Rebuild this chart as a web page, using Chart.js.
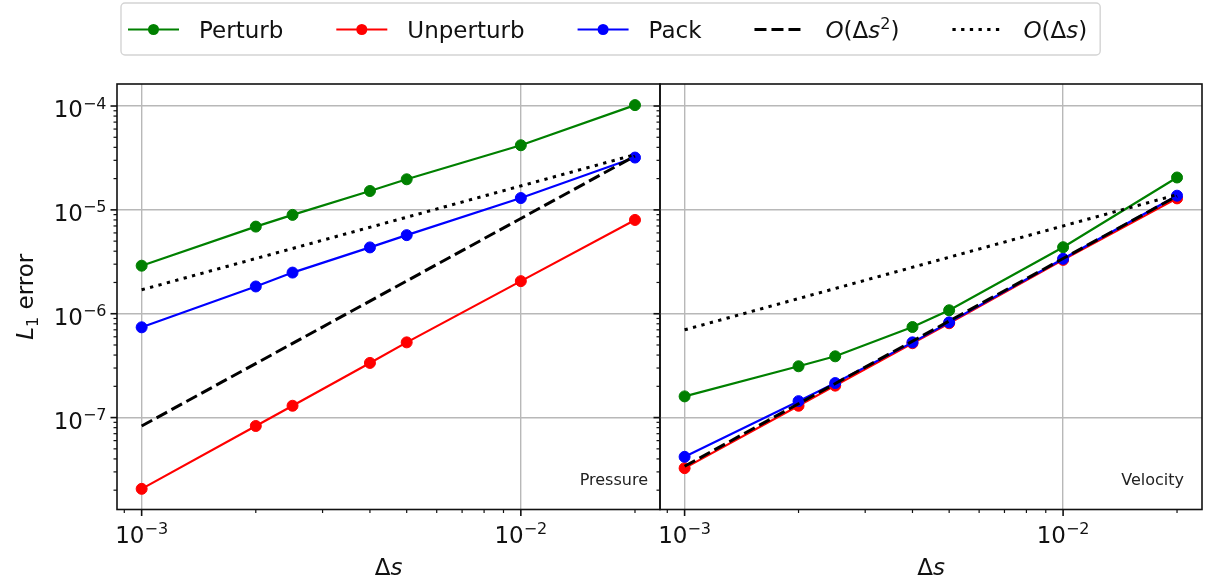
<!DOCTYPE html>
<html lang="en">
<head>
<meta charset="UTF-8">
<title>L1 error vs Δs</title>
<script src="https://cdn.jsdelivr.net/npm/chart.js"></script>
<style>
  body { margin: 0; background: #fff; }
  .wrap { position: relative; width: 1210px; height: 588px; }
  canvas { position: absolute; top: 0; }
  #left { left: 0; }
  #right { left: 620px; }
</style>
</head>
<body>
<div class="wrap">
  <canvas id="left" width="1210" height="588"></canvas>
  <canvas id="right" width="590" height="588"></canvas>
</div>
<script>
// grid spacings and reference-line end points
const ds = [0.001, 0.002, 0.0025, 0.004, 0.005, 0.01, 0.02];
const refDs = [0.001, 0.02];
const seriesNames = ['Perturb', 'Unperturb', 'Pack', 'O(Δs²)', 'O(Δs)'];
const panelNames = ['Pressure', 'Velocity'];

// pressure panel
const pressurePerturb = [2.9e-6, 6.9e-6, 8.95e-6, 1.52e-5, 1.97e-5, 4.19e-5, 1.02e-4];
const pressureUnperturb = [2.06e-8, 8.3e-8, 1.3e-7, 3.36e-7, 5.3e-7, 2.06e-6, 8.0e-6];
const pressurePack = [7.4e-7, 1.83e-6, 2.49e-6, 4.35e-6, 5.71e-6, 1.3e-5, 3.19e-5];
const pressureO2 = [8.3e-8, 3.3e-5];
const pressureO1 = [1.7e-6, 3.4e-5];

// velocity panel
const velocityPerturb = [1.6e-7, 3.12e-7, 3.89e-7, 7.45e-7, 1.08e-6, 4.37e-6, 2.05e-5];
const velocityUnperturb = [3.26e-8, 1.3e-7, 2.03e-7, 5.2e-7, 8.1e-7, 3.3e-6, 1.29e-5];
const velocityPack = [4.19e-8, 1.44e-7, 2.15e-7, 5.3e-7, 8.26e-7, 3.38e-6, 1.37e-5];
const velocityO2 = [3.4e-8, 1.36e-5];
const velocityO1 = [7.0e-7, 1.4e-5];

// axes
const xMajor = [1e-3, 1e-2];
const xTickLabels = ['10⁻³', '10⁻²'];
const yMajor = [1e-7, 1e-6, 1e-5, 1e-4];
const yTickLabels = ['10⁻⁷', '10⁻⁶', '10⁻⁵', '10⁻⁴'];
const xRange = [Math.pow(10, -3.065), Math.pow(10, -1.633)];
const yRange = [Math.pow(10, -7.885), Math.pow(10, -3.788)];

const FONT = "'DejaVu Sans', sans-serif";
const colors = ['green', 'red', 'blue', 'black', 'black'];

function pts(xs, ys) {
  return xs.map((x, i) => ({ x: x, y: ys[i] }));
}

function makeDatasets(perturb, unperturb, pack, o2, o1) {
  const list = [pts(ds, perturb), pts(ds, unperturb), pts(ds, pack), pts(refDs, o2), pts(refDs, o1)];
  return list.map((data, i) => {
    const ref = i >= 3;
    return {
      label: seriesNames[i],
      data: data,
      borderColor: colors[i],
      backgroundColor: colors[i],
      borderWidth: ref ? 3 : 2.2,
      borderDash: i === 3 ? [12, 5] : (i === 4 ? [3.3, 5.4] : []),
      pointRadius: ref ? 0 : 5.5,
      pointBorderWidth: 1,
      pointHoverRadius: 0,
      order: list.length - i,
      tension: 0,
      fill: false
    };
  });
}

function findMajor(list, v) {
  return list.findIndex(m => Math.abs(m - v) / m < 1e-6);
}

function logTicks(scale) {
  const ticks = [];
  const lo = Math.floor(Math.log10(scale.min));
  const hi = Math.ceil(Math.log10(scale.max));
  for (let e = lo; e <= hi; e++) {
    for (let m = 1; m <= 9; m++) {
      const v = m * Math.pow(10, e);
      if (v >= scale.min && v <= scale.max) ticks.push({ value: v, major: m === 1 });
    }
  }
  scale.ticks = ticks;
}

// small rich-text helper: [text, style] with style '', 'i', 'sup', 'sub'
function richFont(s, size) {
  return (s === 'i' ? 'italic ' : '') +
    ((s === 'sup' || s === 'sub') ? Math.round(size * 0.7) : size) + 'px ' + FONT;
}

function richWidth(ctx, segs, size) {
  let w = 0;
  segs.forEach(([t, s]) => { ctx.font = richFont(s, size); w += ctx.measureText(t).width; });
  return w;
}

function drawRich(ctx, segs, x, y, size, align) {
  const w = richWidth(ctx, segs, size);
  let cx = align === 'center' ? x - w / 2 : (align === 'right' ? x - w : x);
  ctx.textAlign = 'left';
  ctx.textBaseline = 'alphabetic';
  segs.forEach(([t, s]) => {
    ctx.font = richFont(s, size);
    const dy = s === 'sup' ? -size * 0.37 : (s === 'sub' ? size * 0.22 : 0);
    ctx.fillText(t, cx, y + dy);
    cx += ctx.measureText(t).width;
  });
  return w;
}

const SUP = { '⁻': '−', '⁰': '0', '¹': '1', '²': '2', '³': '3', '⁴': '4', '⁵': '5', '⁶': '6', '⁷': '7', '⁸': '8', '⁹': '9' };

// "10⁻³" -> base + superscript exponent
function powerSegs(label) {
  const chars = Array.from(label);
  const base = chars.filter(c => !SUP[c]).join('');
  const exp = chars.filter(c => SUP[c]).map(c => SUP[c]).join('');
  return [[base, ''], [exp, 'sup']];
}

function labelSegs(label) {
  if (!label.startsWith('O(')) return [[label, '']];
  return Array.from(label).map(c => {
    if (SUP[c]) return [SUP[c], 'sup'];
    if (/[A-Za-z]/.test(c)) return [c, 'i'];
    return [c, ''];
  });
}

function line(ctx, x1, y1, x2, y2) {
  ctx.beginPath();
  ctx.moveTo(x1, y1);
  ctx.lineTo(x2, y2);
  ctx.stroke();
}

const framePlugin = {
  id: 'frame',
  afterDraw(chart, args, opts) {
    const ctx = chart.ctx;
    const a = chart.chartArea;
    const sx = chart.scales.x, sy = chart.scales.y;
    ctx.save();
    ctx.strokeStyle = '#111';
    ctx.fillStyle = '#111';
    ctx.setLineDash([]);
    // tick marks, pointing out
    sx.ticks.forEach(t => {
      const px = sx.getPixelForValue(t.value);
      const major = findMajor(xMajor, t.value) >= 0;
      ctx.lineWidth = major ? 1.6 : 1.2;
      line(ctx, px, a.bottom, px, a.bottom + (major ? 6.5 : 3.5));
    });
    sy.ticks.forEach(t => {
      const py = sy.getPixelForValue(t.value);
      const major = findMajor(yMajor, t.value) >= 0;
      ctx.lineWidth = major ? 1.6 : 1.2;
      line(ctx, a.left, py, a.left - (major ? 6.5 : 3.5), py);
    });
    ctx.lineWidth = 1.6;
    ctx.strokeRect(a.left, a.top, a.right - a.left, a.bottom - a.top);

    // tick labels with real superscripts
    xMajor.forEach((v, k) => {
      drawRich(ctx, powerSegs(xTickLabels[k]), sx.getPixelForValue(v), a.bottom + 33.5, 23, 'center');
    });
    if (opts.yLabels) {
      yMajor.forEach((v, k) => {
        drawRich(ctx, powerSegs(yTickLabels[k]), a.left - 10.5, sy.getPixelForValue(v) + 11, 23, 'right');
      });
    }

    // panel name
    ctx.font = '16px ' + FONT;
    ctx.fillStyle = '#222';
    ctx.textAlign = 'right';
    ctx.textBaseline = 'middle';
    ctx.fillText(opts.name, a.right - opts.inset, a.bottom - 29);

    // x title
    ctx.fillStyle = '#111';
    drawRich(ctx, [['Δ', ''], ['s', 'i']], (a.left + a.right) / 2, 575, 23, 'center');

    if (opts.yTitle) {
      ctx.save();
      ctx.translate(33, (a.top + a.bottom) / 2);
      ctx.rotate(-Math.PI / 2);
      drawRich(ctx, [['L', 'i'], ['1', 'sub'], [' error', '']], 0, 0, 23, 'center');
      ctx.restore();
    }

    if (opts.legend) drawLegend(chart);
    ctx.restore();
  }
};

function drawLegend(chart) {
  const ctx = chart.ctx;
  const cy = 29.5, handle = 51, textPad = 20, colGap = 53, x0 = 128;
  const widths = seriesNames.map(n => richWidth(ctx, labelSegs(n), 23));
  let end = x0;
  widths.forEach((w, i) => { end += handle + textPad + w + (i < widths.length - 1 ? colGap : 0); });
  ctx.save();
  ctx.setLineDash([]);
  ctx.fillStyle = 'rgba(255,255,255,0.85)';
  ctx.strokeStyle = '#d4d4d4';
  ctx.lineWidth = 1.4;
  ctx.beginPath();
  ctx.roundRect(121, 3, end + 13 - 121, 52, 4);
  ctx.fill();
  ctx.stroke();

  let x = x0;
  chart.data.datasets.forEach((d, i) => {
    ctx.strokeStyle = d.borderColor;
    ctx.lineWidth = d.borderWidth;
    ctx.setLineDash(d.borderDash);
    line(ctx, x, cy, x + handle, cy);
    if (d.pointRadius) {
      ctx.setLineDash([]);
      ctx.fillStyle = d.backgroundColor;
      ctx.beginPath();
      ctx.arc(x + handle / 2, cy, d.pointRadius, 0, Math.PI * 2);
      ctx.fill();
    }
    ctx.fillStyle = '#111';
    drawRich(ctx, labelSegs(seriesNames[i]), x + handle + textPad, cy + 8, 23, 'left');
    x += handle + textPad + widths[i] + colGap;
  });
  ctx.restore();
}

function makeChart(id, datasets, opts) {
  return new Chart(document.getElementById(id), {
    type: 'line',
    data: { datasets: datasets },
    plugins: [framePlugin],
    options: {
      responsive: false,
      animation: false,
      events: [],
      layout: { padding: { left: 0, top: 84, right: opts.padRight, bottom: 0 } },
      plugins: {
        legend: { display: false },
        tooltip: { enabled: false },
        frame: { name: opts.name, inset: opts.inset, yTitle: opts.yTitle, yLabels: opts.yLabels, legend: opts.legend }
      },
      scales: {
        x: {
          type: 'logarithmic',
          min: xRange[0],
          max: xRange[1],
          afterBuildTicks: logTicks,
          afterFit: s => { s.height = 78.5; },
          border: { display: false },
          grid: {
            drawTicks: false,
            lineWidth: 1.4,
            color: c => (c.tick && findMajor(xMajor, c.tick.value) >= 0) ? '#b8b8b8' : 'rgba(0,0,0,0)'
          },
          ticks: { display: false, autoSkip: false, maxRotation: 0 }
        },
        y: {
          type: 'logarithmic',
          min: yRange[0],
          max: yRange[1],
          afterBuildTicks: logTicks,
          afterFit: s => { s.width = opts.yWidth; },
          border: { display: false },
          grid: {
            drawTicks: false,
            lineWidth: 1.4,
            color: c => (c.tick && findMajor(yMajor, c.tick.value) >= 0) ? '#b8b8b8' : 'rgba(0,0,0,0)'
          },
          ticks: { display: false, autoSkip: false }
        }
      }
    }
  });
}

makeChart('left',
  makeDatasets(pressurePerturb, pressureUnperturb, pressurePack, pressureO2, pressureO1),
  { name: panelNames[0], inset: 12, padRight: 550, yWidth: 117, yLabels: true, yTitle: true, legend: true });

makeChart('right',
  makeDatasets(velocityPerturb, velocityUnperturb, velocityPack, velocityO2, velocityO1),
  { name: panelNames[1], inset: 18, padRight: 8, yWidth: 40, yLabels: false, yTitle: false, legend: false });
</script>
</body>
</html>
